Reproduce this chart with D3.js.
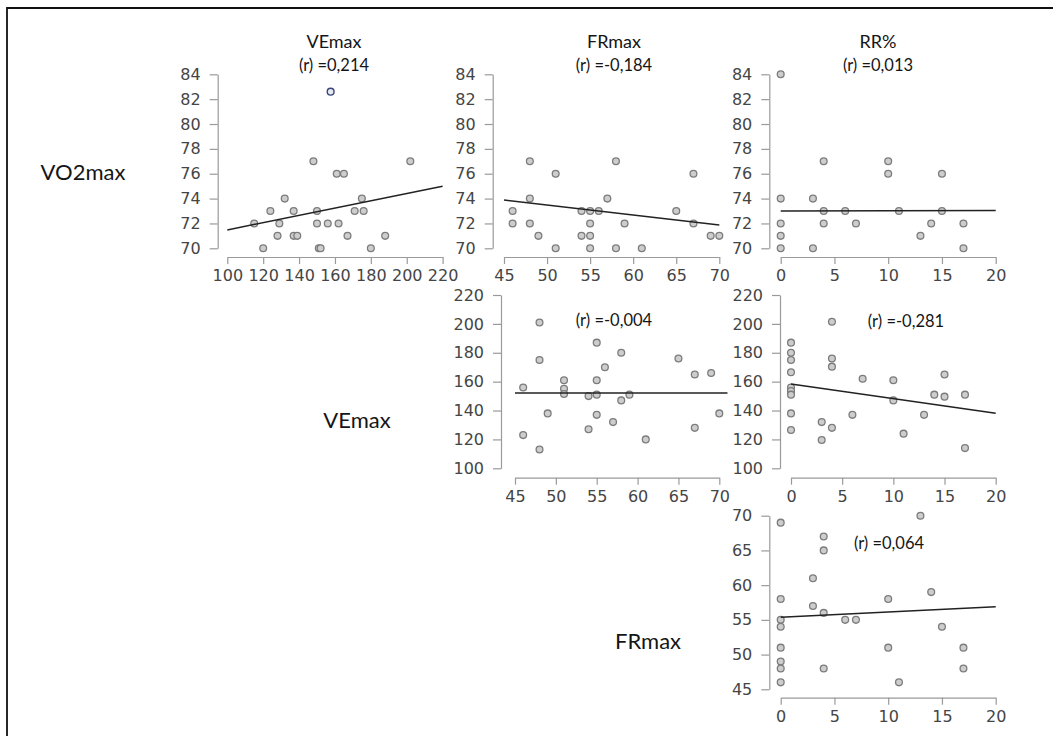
<!DOCTYPE html>
<html>
<head>
<meta charset="utf-8">
<script src="https://cdn.jsdelivr.net/npm/d3@7"></script>
<style>
  html, body { margin: 0; padding: 0; background: #fff; }
  .tick text { font-family: 'DejaVu Sans', sans-serif; font-size: 16px; fill: #454545; }
  .tick line, .domain { stroke: #9a9a9a; stroke-width: 1.2; }
  .label { font-family: Lato, 'Open Sans', sans-serif; fill: #151515; }
</style>
</head>
<body>
<div class="chart"></div>
<script>
// titles and correlation labels
var colTitles = ['VEmax', 'FRmax', 'RR%'];
var rowTitles = ['VO2max', 'VEmax', 'FRmax'];
var rLabels = ['(r) =0,214', '(r) =-0,184', '(r) =0,013', '(r) =-0,004', '(r) =-0,281', '(r) =0,064'];

// tick labels
var vo2Ticks = [70, 72, 74, 76, 78, 80, 82, 84];
var veTicksX = [100, 120, 140, 160, 180, 200, 220];
var veTicksY = [100, 120, 140, 160, 180, 200, 220];
var frTicksX = [45, 50, 55, 60, 65, 70];
var frTicksY = [45, 50, 55, 60, 65, 70];
var rrTicks = [0, 5, 10, 15, 20];

// VEmax (x) vs VO2max (y)
var p1x = [148, 202, 161, 165, 132, 175, 124, 137, 150, 171, 176, 115, 129, 150, 156, 162, 128, 137, 139, 167, 188, 120, 151, 152, 180];
var p1y = [77, 77, 76, 76, 74, 74, 73, 73, 73, 73, 73, 72, 72, 72, 72, 72, 71, 71, 71, 71, 71, 70, 70, 70, 70];
// outlier drawn with a blue ring
var p1OutX = [157.6];
var p1OutY = [82.6];

// FRmax (x) vs VO2max (y)
var p2x = [48, 58, 51, 67, 48, 57, 46, 54, 55, 56, 65, 46, 48, 55, 59, 67, 49, 54, 55, 69, 70, 51, 55, 58, 61];
var p2y = [77, 77, 76, 76, 74, 74, 73, 73, 73, 73, 73, 72, 72, 72, 72, 72, 71, 71, 71, 71, 71, 70, 70, 70, 70];

// RR% (x) vs VO2max (y)
var p3x = [0, 4, 10, 10, 15, 0, 3, 4, 6, 11, 15, 0, 4, 7, 14, 17, 0, 13, 0, 3, 17];
var p3y = [84, 77, 77, 76, 76, 74, 74, 73, 73, 73, 73, 72, 72, 72, 72, 72, 71, 71, 70, 70, 70];

// FRmax (x) vs VEmax (y)
var p4x = [48, 55, 48, 58, 65, 56, 67, 69, 46, 51, 51, 51, 55, 54, 55, 58, 59, 49, 55, 57, 54, 67, 70, 46, 61, 48];
var p4y = [201, 187, 175, 180, 176, 170, 165, 166, 156, 161, 155, 151.5, 161, 150, 151, 147, 151, 138, 137, 132, 127, 128, 138, 123, 120, 113];

// RR% (x) vs VEmax (y)
var p5x = [4, 0, 0, 0, 0, 0, 0, 0, 0, 0, 4, 4, 3, 4, 3, 6, 7, 10, 10, 11, 13, 14, 15, 15, 17, 17];
var p5y = [201.5, 187, 180, 175, 166.5, 156, 153.5, 151, 138, 126.5, 176, 170.4, 132, 128, 119.6, 137, 162, 161, 147, 124, 137, 151, 165, 149.6, 151, 114];

// RR% (x) vs FRmax (y)
var p6x = [0, 13, 4, 4, 3, 14, 0, 10, 3, 4, 0, 0, 6, 7, 15, 0, 10, 17, 0, 0, 4, 17, 0, 11];
var p6y = [69, 70, 67, 65, 61, 59, 58, 58, 57, 56, 55, 54, 55, 55, 54, 51, 51, 51, 49, 48, 48, 48, 46, 46];

// fitted lines: start x/y, end x/y
var fitX0 = [100, 45, 0, 45, 0, 0];
var fitY0 = [71.48, 73.89, 73.0, 152.2, 158.4, 55.36];
var fitX1 = [220, 70, 20, 71, 20, 20];
var fitY1 = [75.0, 71.88, 73.05, 152.2, 138.1, 56.9];

(function draw() {

  var svg = d3.select('.chart').append('svg')
    .attr('width', 1053)
    .attr('height', 736);

  // frame (left and top edge only, the rest is cut off)
  svg.append('path')
    .attr('d', 'M7,736V8H1053')
    .attr('fill', 'none')
    .attr('stroke', '#111')
    .attr('stroke-width', 1.8);

  var panels = [
    { xs: p1x, ys: p1y, xd: [100, 220], xr: [227.3, 442.6], xt: veTicksX, yd: [70, 84], yr: [248.3, 74.3], yt: vo2Ticks, ax: 217.7, ay: 257, lx: 334, ly: 71 },
    { xs: p2x, ys: p2y, xd: [45, 70], xr: [504, 719.3], xt: frTicksX, yd: [70, 84], yr: [248.3, 74.3], yt: vo2Ticks, ax: 492.7, ay: 257, lx: 614, ly: 71 },
    { xs: p3x, ys: p3y, xd: [0, 20], xr: [780.7, 995.7], xt: rrTicks, yd: [70, 84], yr: [248.3, 74.3], yt: vo2Ticks, ax: 769.3, ay: 257, lx: 878, ly: 71 },
    { xs: p4x, ys: p4y, xd: [45, 70], xr: [515, 719.3], xt: frTicksX, yd: [100, 220], yr: [468.3, 295], yt: veTicksY, ax: 501, ay: 477.7, lx: 614, ly: 326 },
    { xs: p5x, ys: p5y, xd: [0, 20], xr: [791, 995.7], xt: rrTicks, yd: [100, 220], yr: [468.3, 295], yt: veTicksY, ax: 780, ay: 477.7, lx: 906, ly: 327 },
    { xs: p6x, ys: p6y, xd: [0, 20], xr: [780.7, 995.7], xt: rrTicks, yd: [45, 70], yr: [689.3, 515.7], yt: frTicksY, ax: 769.3, ay: 697.7, lx: 889, ly: 549 }
  ];

  panels.forEach(function (p, i) {

    var x = d3.scaleLinear().domain(p.xd).range(p.xr);
    var y = d3.scaleLinear().domain(p.yd).range(p.yr);

    var g = svg.append('g');

    g.append('g')
      .attr('transform', 'translate(' + p.ax + ',0)')
      .call(d3.axisLeft(y).tickValues(p.yt).tickSize(8).tickSizeOuter(0).tickPadding(9));

    g.append('g')
      .attr('transform', 'translate(0,' + p.ay + ')')
      .call(d3.axisBottom(x).tickValues(p.xt).tickSize(7).tickSizeOuter(0).tickPadding(6));

    g.selectAll('.pt')
        .data(p.xs)
        .enter()
      .append('circle')
        .attr('class', 'pt')
        .attr('cx', function (d) { return x(d); })
        .attr('cy', function (d, j) { return y(p.ys[j]); })
        .attr('r', 3.4)
        .attr('fill', '#cdcdcd')
        .attr('stroke', '#7c7c7c')
        .attr('stroke-width', 1.3);

    if (i === 0) {
      g.selectAll('.out')
          .data(p1OutX)
          .enter()
        .append('circle')
          .attr('cx', function (d) { return x(d); })
          .attr('cy', function (d, j) { return y(p1OutY[j]); })
          .attr('r', 3.4)
          .attr('fill', '#e6e8f0')
          .attr('stroke', '#38457a')
          .attr('stroke-width', 1.4);
    }

    g.append('line')
      .attr('x1', x(fitX0[i]))
      .attr('y1', y(fitY0[i]))
      .attr('x2', x(fitX1[i]))
      .attr('y2', y(fitY1[i]))
      .attr('stroke', '#222')
      .attr('stroke-width', 1.5);

    g.append('text')
      .attr('class', 'label')
      .attr('x', p.lx)
      .attr('y', p.ly)
      .attr('text-anchor', 'middle')
      .attr('font-size', 16.5)
      .text(rLabels[i]);
  });

  // column headers
  svg.selectAll('.col')
      .data(colTitles)
      .enter()
    .append('text')
      .attr('class', 'label')
      .attr('x', function (d, i) { return [334, 614, 878][i]; })
      .attr('y', 48)
      .attr('text-anchor', 'middle')
      .attr('font-size', 18)
      .text(function (d) { return d; });

  // row headers
  svg.selectAll('.row')
      .data(rowTitles)
      .enter()
    .append('text')
      .attr('class', 'label')
      .attr('x', function (d, i) { return [83, 357, 648][i]; })
      .attr('y', function (d, i) { return [180, 428, 649][i]; })
      .attr('text-anchor', 'middle')
      .attr('font-size', 22)
      .text(function (d) { return d; });
})();
</script>
</body>
</html>
